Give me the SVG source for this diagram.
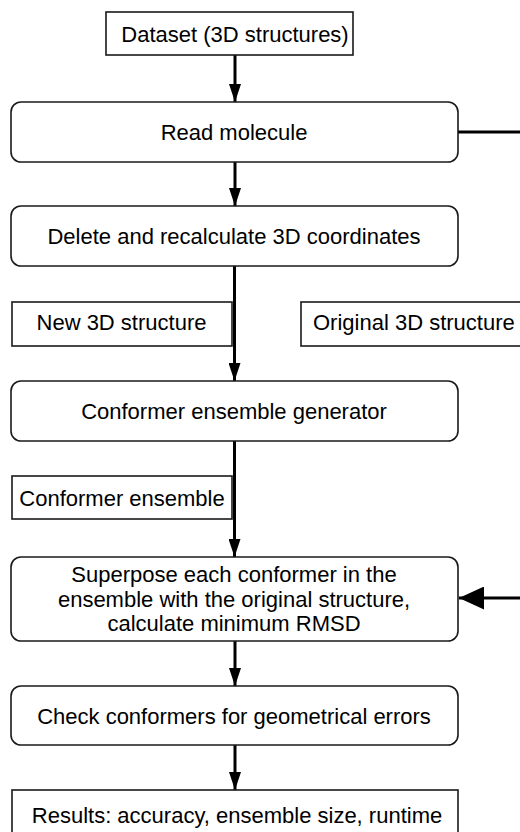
<svg xmlns="http://www.w3.org/2000/svg" width="520" height="832" viewBox="0 0 520 832">
  <style>
    text { font-family: "Liberation Sans", Arial, sans-serif; font-size: 22px; fill: #000; }
    .c { text-anchor: middle; }
    .box { fill: #fff; stroke: #1a1a1a; stroke-width: 1.6; }
    .edge { fill: none; stroke: #000; stroke-width: 3; }
  </style>
  <defs>
    <marker id="arrow" markerUnits="userSpaceOnUse" markerWidth="18" markerHeight="12" viewBox="0 0 18 12" refX="18" refY="6" orient="auto">
      <path d="M0,0 L18,6 L0,12 z" fill="#000"/>
    </marker>
    <marker id="arrowBig" markerUnits="userSpaceOnUse" markerWidth="25" markerHeight="23" viewBox="0 0 25 23" refX="25" refY="11.5" orient="auto">
      <path d="M0,0 L25,11.5 L0,23 z" fill="#000"/>
    </marker>
  </defs>

  <!-- connectors -->
  <g id="connectors">
    <line class="edge" x1="235" y1="55" x2="235" y2="102" marker-end="url(#arrow)"/>
    <line class="edge" x1="458" y1="132" x2="522" y2="132"/>
    <line class="edge" x1="235" y1="162" x2="235" y2="206" marker-end="url(#arrow)"/>
    <line class="edge" x1="234.5" y1="266" x2="234.5" y2="381" marker-end="url(#arrow)"/>
    <line class="edge" x1="234.5" y1="441" x2="234.5" y2="557" marker-end="url(#arrow)"/>
    <line class="edge" x1="522" y1="598" x2="459" y2="598" marker-end="url(#arrowBig)"/>
    <line class="edge" x1="235" y1="641" x2="235" y2="686" marker-end="url(#arrow)"/>
    <line class="edge" x1="235" y1="745" x2="235" y2="790" marker-end="url(#arrow)"/>
  </g>

  <g id="dataset">
    <rect class="box" x="106" y="12" width="247" height="43"/>
    <text class="c" x="235" y="41.5">Dataset (3D structures)</text>
  </g>

  <g id="read-molecule">
    <rect class="box" x="11" y="102" width="447" height="60" rx="10"/>
    <text class="c" x="234" y="140">Read molecule</text>
  </g>

  <g id="recalculate">
    <rect class="box" x="11" y="206" width="447" height="60" rx="10"/>
    <text class="c" x="234" y="244">Delete and recalculate 3D coordinates</text>
  </g>

  <g id="new-structure">
    <rect class="box" x="12" y="302" width="220" height="44"/>
    <text class="c" x="121.5" y="330">New 3D structure</text>
  </g>

  <g id="original-structure">
    <rect class="box" x="301" y="302" width="232" height="44"/>
    <text x="313" y="330">Original 3D structure</text>
  </g>

  <g id="generator">
    <rect class="box" x="11" y="381" width="447" height="60" rx="10"/>
    <text class="c" x="234" y="419">Conformer ensemble generator</text>
  </g>

  <g id="ensemble">
    <rect class="box" x="12" y="476" width="220" height="43"/>
    <text class="c" x="122" y="506">Conformer ensemble</text>
  </g>

  <g id="superpose">
    <rect class="box" x="11" y="557" width="447" height="84" rx="10"/>
    <text class="c" x="234" y="582">Superpose each conformer in the</text>
    <text class="c" x="234" y="606.5">ensemble with the original structure,</text>
    <text class="c" x="234" y="631">calculate minimum RMSD</text>
  </g>

  <g id="check">
    <rect class="box" x="11" y="686" width="447" height="59" rx="10"/>
    <text class="c" x="234" y="723.5">Check conformers for geometrical errors</text>
  </g>

  <g id="results">
    <rect class="box" x="12" y="790" width="446" height="60"/>
    <text class="c" x="237" y="823">Results: accuracy, ensemble size, runtime</text>
  </g>
</svg>
